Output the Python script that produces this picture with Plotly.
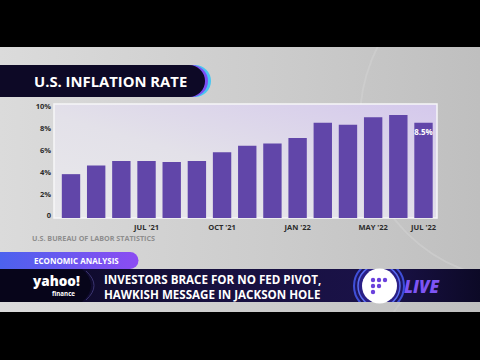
import base64
import plotly.graph_objects as go

# ---- data ----
months = ["APR '21", "MAY '21", "JUN '21", "JUL '21", "AUG '21", "SEP '21", "OCT '21",
          "NOV '21", "DEC '21", "JAN '22", "MAR '22", "APR '22", "MAY '22", "JUN '22", "JUL '22"]
inflation = [4.0, 4.8, 5.2, 5.2, 5.1, 5.2, 6.0, 6.6, 6.8, 7.3, 8.7, 8.5, 9.2, 9.4, 8.7]
bar_labels = [""] * 14 + ["8.5%"]
x_tick_vals = ["JUL '21", "OCT '21", "JAN '22", "MAY '22", "JUL '22"]
y_tick_vals = [0, 2, 4, 6, 8, 10]
y_tick_text = ["0", "2%", "4%", "6%", "8%", "10%"]

W, H = 480, 360
L, R, T, B = 54, 43, 104, 142
PW, PH = W - L - R, H - T - B


def px(x, y):
    return (x - L) / PW, 1 - (y - T) / PH


svg = f'''<svg xmlns="http://www.w3.org/2000/svg" width="{W}" height="{H}" viewBox="0 0 {W} {H}">
<defs>
<linearGradient id="bg" x1="0" y1="0" x2="1" y2="0">
<stop offset="0" stop-color="#dbdbdb"/><stop offset="0.6" stop-color="#cbcbcb"/><stop offset="1" stop-color="#bfbfbf"/></linearGradient>
<linearGradient id="pb" x1="0" y1="1" x2="1" y2="0">
<stop offset="0" stop-color="#e9e9eb"/><stop offset="0.45" stop-color="#e3e1e9"/><stop offset="1" stop-color="#d4c8ec"/></linearGradient>
<linearGradient id="pill" x1="0" y1="0" x2="1" y2="0">
<stop offset="0" stop-color="#4c62ee"/><stop offset="1" stop-color="#8c4cf2"/></linearGradient>
<linearGradient id="lb" x1="0" y1="0" x2="1" y2="0">
<stop offset="0" stop-color="#0b0824"/><stop offset="0.45" stop-color="#17103f"/><stop offset="0.8" stop-color="#1a1248"/><stop offset="1" stop-color="#0c0926"/></linearGradient>
<clipPath id="barclip"><rect x="0" y="269" width="480" height="33"/></clipPath>
<clipPath id="frameclip"><rect x="0" y="47" width="480" height="265"/></clipPath>
</defs>
<rect x="0" y="0" width="480" height="360" fill="#000"/>
<rect x="0" y="47" width="480" height="265" fill="url(#bg)"/>
<g clip-path="url(#frameclip)">
<circle cx="520" cy="120" r="160" fill="none" stroke="#d4d4d4" stroke-width="2" opacity="0.5"/>
<circle cx="470" cy="360" r="90" fill="none" stroke="#d0d0d0" stroke-width="2" opacity="0.5"/>
</g>
<rect x="{L}" y="{T}" width="{PW}" height="{PH}" fill="url(#pb)" stroke="#f6f6f8" stroke-width="1.5"/>
<path d="M0,65 H195 A16,16 0 0 1 195,97 H0 Z" fill="#49c6f2"/>
<path d="M0,65 H192 A16,16 0 0 1 192,97 H0 Z" fill="#7b4ff2"/>
<path d="M0,65 H189 A16,16 0 0 1 189,97 H0 Z" fill="#0d0926"/>
<path d="M0,252 H130 A8.5,8.5 0 0 1 130,269 H0 Z" fill="url(#pill)"/>
<rect x="0" y="269" width="480" height="33" fill="url(#lb)"/>
<path d="M0,269 H82 Q100,285.5 82,302 H0 Z" fill="#07051a"/>
<path d="M86,271 Q102,285.5 86,300" fill="none" stroke="#3a3470" stroke-width="1"/>
<g clip-path="url(#barclip)">
<circle cx="379" cy="286" r="25" fill="#1d1560" stroke="#3f4fd8" stroke-width="2"/>
<circle cx="379" cy="286" r="21" fill="#2a1f85" stroke="#5a6cf0" stroke-width="1.5"/>
</g>
<circle cx="379.5" cy="286" r="17.5" fill="#ffffff"/>
<g fill="#6a40dc">
<circle cx="373" cy="280" r="2.2"/><circle cx="379" cy="280" r="2.2"/><circle cx="385" cy="280" r="2.2"/>
<circle cx="373" cy="286" r="2.2"/><circle cx="379" cy="286" r="2.2"/>
<circle cx="373" cy="292" r="2.2"/>
</g>
</svg>'''
src = "data:image/svg+xml;base64," + base64.b64encode(svg.encode()).decode()

fig = go.Figure()
fig.add_trace(go.Bar(
    x=months, y=inflation, base=-0.2,
    marker=dict(color="#6146a9", line=dict(width=0)),
    width=0.73,
    text=bar_labels, textposition="inside", insidetextanchor="end",
    textangle=0, constraintext="none",
    textfont=dict(family="Open Sans", size=8, color="white", weight="bold"),
    hoverinfo="skip",
))

x0, ytop = px(0, 0)
fig.add_layout_image(dict(source=src, xref="paper", yref="paper", x=x0, y=ytop,
                          sizex=W / PW, sizey=H / PH, xanchor="left", yanchor="top",
                          sizing="stretch", layer="below"))


def ann(text, x, y, size, color="white", family="Open Sans", weight="bold", xanchor="left", style="normal"):
    ax, ay = px(x, y)
    fig.add_annotation(text=text, x=ax, y=ay, xref="paper", yref="paper", showarrow=False,
                       xanchor=xanchor, yanchor="middle", borderpad=0, align="left",
                       font=dict(family=family, size=size, color=color, weight=weight, style=style))


ann("U.S. INFLATION RATE", 33, 81, 14.8)
ann("U.S. BUREAU OF LABOR STATISTICS", 31, 238, 7.2, color="#8e8e8e")
ann("ECONOMIC ANALYSIS", 33, 260, 8)
ann("INVESTORS BRACE FOR NO FED PIVOT,<br>HAWKISH MESSAGE IN JACKSON HOLE", 103, 286.5, 11.6)
ann("yahoo!", 31, 280.5, 13.5, weight=800)
ann("finance", 51, 293, 6.2)
ann("LIVE", 403, 286, 17, color="#7e55f5", style="italic", weight=800)

fig.update_layout(
    width=W, height=H,
    margin=dict(l=L, r=R, t=T, b=B, pad=0),
    paper_bgcolor="#000000", plot_bgcolor="rgba(0,0,0,0)",
    showlegend=False, bargap=0.27,
    xaxis=dict(type="category", range=[-0.675, 14.536], tickvals=x_tick_vals,
               ticktext=x_tick_vals, showgrid=False, zeroline=False, showline=False,
               ticks="", ticklabelstandoff=3, fixedrange=True,
               tickfont=dict(family="Open Sans", size=7.5, color="#2b2b2b", weight="bold")),
    yaxis=dict(range=[-0.2, 10.2], tickvals=y_tick_vals, ticktext=y_tick_text,
               showgrid=False, zeroline=False, showline=False, ticks="", ticklabelstandoff=2,
               fixedrange=True,
               tickfont=dict(family="Open Sans", size=7.5, color="#2b2b2b", weight="bold")),
)

fig.write_html("out.html", config={"displayModeBar": False},
               post_script="document.body.style.margin='0';document.body.style.overflow='hidden';document.body.style.background='#000';")
